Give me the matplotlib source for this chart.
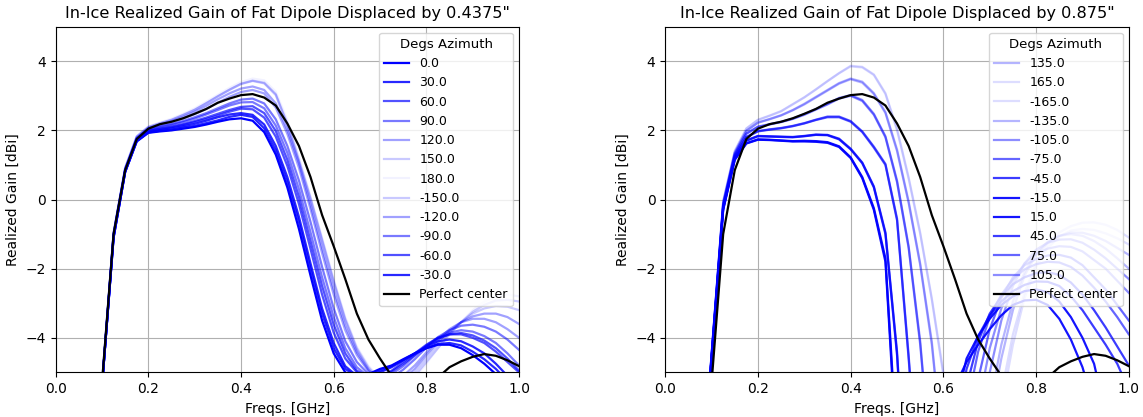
import numpy as np
import matplotlib
matplotlib.use('Agg')
import matplotlib.pyplot as plt

plt.rcParams['font.size'] = 10
plt.rcParams['legend.fontsize'] = 9
plt.rcParams['axes.titlesize'] = 11.6

freqs = [0.075, 0.1, 0.125, 0.15, 0.175, 0.2, 0.225, 0.25, 0.275, 0.3,
         0.325, 0.35, 0.375, 0.4, 0.425, 0.45, 0.475, 0.5, 0.525, 0.55,
         0.575, 0.6, 0.625, 0.65, 0.675, 0.7, 0.725, 0.75, 0.775, 0.8,
         0.825, 0.85, 0.875, 0.9, 0.925, 0.95, 0.975, 1.0]

center = [-9, -5.3, -1.0, 0.85, 1.75, 2.05, 2.18, 2.25, 2.35, 2.48,
          2.62, 2.8, 2.92, 3.02, 3.05, 2.95, 2.72, 2.2, 1.55, 0.65,
          -0.45, -1.35, -2.3, -3.3, -4.05, -4.6, -5.1, -5.6, -5.8, -5.6,
          -5.15, -4.85, -4.68, -4.55, -4.47, -4.52, -4.65, -4.82]

# 0.4375" displacement
az_a = [0.0, 30.0, 60.0, 90.0, 120.0, 150.0, 180.0, -150.0, -120.0, -90.0, -60.0, -30.0]
gain_a = {
    0.0: [-9, -5.4, -1.1, 0.8, 1.68, 1.93, 1.97, 2.0, 2.05, 2.1,
          2.17, 2.25, 2.32, 2.35, 2.28, 1.95, 1.3, 0.35, -0.85, -2.2,
          -3.5, -4.45, -5.0, -5.15, -5.05, -4.9, -4.8, -4.62, -4.45, -4.3,
          -4.2, -4.2, -4.3, -4.5, -4.75, -5.05, -5.4, -5.8],
    30.0: [-9, -5.4, -1.1, 0.8, 1.69, 1.94, 1.99, 2.02, 2.08, 2.13,
           2.21, 2.29, 2.39, 2.45, 2.39, 2.06, 1.42, 0.5, -0.65, -2.0,
           -3.3, -4.3, -4.9, -5.12, -5.08, -4.95, -4.82, -4.64, -4.46, -4.3,
           -4.18, -4.15, -4.22, -4.4, -4.62, -4.9, -5.25, -5.65],
    60.0: [-9, -5.4, -1.05, 0.82, 1.72, 1.98, 2.04, 2.09, 2.16, 2.24,
           2.33, 2.43, 2.54, 2.63, 2.61, 2.37, 1.82, 0.97, -0.13, -1.43,
           -2.75, -3.85, -4.6, -5.0, -5.15, -5.1, -4.95, -4.7, -4.45, -4.2,
           -4.0, -3.9, -3.9, -4.0, -4.15, -4.4, -4.7, -5.0],
    90.0: [-9, -5.4, -1.05, 0.85, 1.75, 2.01, 2.09, 2.16, 2.24, 2.34,
           2.46, 2.59, 2.72, 2.81, 2.82, 2.64, 2.14, 1.35, 0.3, -0.95,
           -2.25, -3.4, -4.3, -4.85, -5.12, -5.18, -5.05, -4.82, -4.52, -4.22,
           -4.0, -3.85, -3.78, -3.82, -3.95, -4.15, -4.45, -4.8],
    120.0: [-9, -5.4, -1.0, 0.88, 1.78, 2.05, 2.15, 2.23, 2.34, 2.47,
            2.62, 2.8, 2.97, 3.11, 3.17, 3.07, 2.66, 1.9, 0.92, -0.28,
            -1.55, -2.75, -3.78, -4.5, -4.97, -5.22, -5.28, -5.1, -4.8, -4.42,
            -4.05, -3.75, -3.55, -3.45, -3.45, -3.55, -3.75, -4.0],
    150.0: [-9, -5.3, -0.95, 0.92, 1.83, 2.1, 2.21, 2.31, 2.45, 2.6,
            2.79, 2.99, 3.18, 3.35, 3.44, 3.38, 3.05, 2.2, 1.15, 0.05,
            -1.15, -2.35, -3.45, -4.3, -4.85, -5.2, -5.4, -5.35, -5.1, -4.7,
            -4.3, -3.9, -3.55, -3.25, -3.05, -2.92, -2.9, -2.95],
    180.0: [-9, -5.3, -0.95, 0.93, 1.84, 2.12, 2.23, 2.34, 2.48, 2.64,
            2.83, 3.03, 3.23, 3.4, 3.5, 3.45, 3.12, 2.3, 1.25, 0.1,
            -1.1, -2.3, -3.4, -4.25, -4.8, -5.2, -5.45, -5.4, -5.15, -4.75,
            -4.3, -3.9, -3.55, -3.2, -2.95, -2.8, -2.75, -2.8],
    -150.0: [-9, -5.3, -0.96, 0.91, 1.82, 2.09, 2.2, 2.3, 2.44, 2.59,
             2.78, 2.98, 3.17, 3.34, 3.43, 3.36, 3.02, 2.15, 1.1, 0.0,
             -1.2, -2.4, -3.5, -4.35, -4.9, -5.25, -5.4, -5.3, -5.0, -4.6,
             -4.2, -3.85, -3.55, -3.3, -3.15, -3.08, -3.1, -3.2],
    -120.0: [-9, -5.4, -1.0, 0.89, 1.79, 2.07, 2.17, 2.27, 2.39, 2.54,
             2.71, 2.9, 3.07, 3.21, 3.27, 3.17, 2.78, 2.02, 1.05, -0.15,
             -1.4, -2.6, -3.65, -4.42, -4.93, -5.25, -5.32, -5.2, -4.9, -4.5,
             -4.12, -3.8, -3.55, -3.38, -3.3, -3.3, -3.4, -3.6],
    -90.0: [-9, -5.4, -1.0, 0.86, 1.77, 2.03, 2.11, 2.18, 2.27, 2.38,
            2.5, 2.64, 2.78, 2.89, 2.92, 2.78, 2.32, 1.55, 0.55, -0.65,
            -1.95, -3.15, -4.1, -4.7, -5.05, -5.2, -5.15, -4.92, -4.62, -4.28,
            -3.98, -3.78, -3.65, -3.62, -3.68, -3.82, -4.05, -4.35],
    -60.0: [-9, -5.4, -1.05, 0.83, 1.73, 1.99, 2.05, 2.11, 2.18, 2.27,
            2.37, 2.48, 2.59, 2.68, 2.7, 2.5, 1.98, 1.15, 0.08, -1.2,
            -2.5, -3.62, -4.45, -4.95, -5.12, -5.12, -4.98, -4.76, -4.5, -4.24,
            -4.03, -3.9, -3.86, -3.93, -4.08, -4.3, -4.6, -4.95],
    -30.0: [-9, -5.4, -1.1, 0.8, 1.7, 1.95, 2.01, 2.06, 2.12, 2.19,
            2.28, 2.38, 2.46, 2.5, 2.45, 2.17, 1.55, 0.65, -0.5, -1.85,
            -3.15, -4.15, -4.82, -5.1, -5.1, -5.0, -4.85, -4.65, -4.45, -4.25,
            -4.1, -4.05, -4.1, -4.25, -4.45, -4.75, -5.1, -5.5],
}

# 0.875" displacement
az_b = [135.0, 165.0, -165.0, -135.0, -105.0, -75.0, -45.0, -15.0, 15.0, 45.0, 75.0, 105.0]
gain_b = {
    15.0: [-9, -4.6, -0.3, 1.15, 1.62, 1.73, 1.72, 1.7, 1.68, 1.68,
           1.67, 1.64, 1.52, 1.2, 0.62, -0.3, -1.8, -7.5, -11, -13,
           -12, -8.5, -5.4, -4.7, -4.2, -3.75, -3.35, -3.05, -2.92, -2.9,
           -3.05, -3.45, -4.05, -4.85, -6.0, -8.0, -10, -12],
    -15.0: [-9, -4.6, -0.28, 1.16, 1.63, 1.74, 1.73, 1.71, 1.69, 1.7,
            1.69, 1.66, 1.54, 1.22, 0.65, -0.25, -1.7, -7.2, -10.5, -13,
            -12.5, -9.5, -6.0, -4.6, -3.95, -3.45, -3.05, -2.8, -2.65, -2.6,
            -2.68, -2.95, -3.4, -4.0, -4.75, -6.2, -8.0, -10],
    45.0: [-9, -4.6, -0.25, 1.2, 1.7, 1.83, 1.82, 1.81, 1.8, 1.83,
           1.87, 1.86, 1.74, 1.45, 1.05, 0.35, -1.0, -4.5, -10, -13,
           -13, -10, -6.8, -4.9, -3.95, -3.35, -2.95, -2.65, -2.47, -2.37,
           -2.38, -2.5, -2.8, -3.2, -3.7, -4.2, -4.75, -5.5],
    -45.0: [-9, -4.6, -0.24, 1.21, 1.71, 1.84, 1.83, 1.82, 1.81, 1.84,
            1.88, 1.87, 1.76, 1.47, 1.07, 0.38, -0.95, -4.4, -10, -13,
            -14, -11, -7.5, -5.4, -4.1, -3.3, -2.8, -2.45, -2.25, -2.13,
            -2.1, -2.18, -2.4, -2.75, -3.2, -3.7, -4.25, -4.8],
    75.0: [-9, -4.55, -0.2, 1.25, 1.8, 1.97, 2.02, 2.06, 2.12, 2.2,
           2.3, 2.38, 2.38, 2.25, 1.95, 1.5, 1.0, -0.6, -4.6, -9,
           -13, -12, -8.5, -6.0, -4.4, -3.4, -2.75, -2.3, -2.02, -1.87,
           -1.8, -1.82, -1.95, -2.2, -2.55, -2.95, -3.4, -3.9],
    -75.0: [-9, -4.55, -0.19, 1.26, 1.81, 1.98, 2.03, 2.07, 2.13, 2.21,
            2.31, 2.4, 2.4, 2.27, 1.97, 1.53, 1.03, -0.55, -4.5, -9,
            -13, -13, -9.5, -6.8, -5.2, -3.75, -2.85, -2.25, -1.9, -1.72,
            -1.62, -1.6, -1.68, -1.9, -2.25, -2.6, -3.05, -3.5],
    105.0: [-9, -4.5, -0.15, 1.3, 1.9, 2.1, 2.17, 2.24, 2.33, 2.45,
            2.6, 2.75, 2.92, 3.0, 2.85, 2.45, 1.8, 0.5, -1.4, -4.2,
            -8, -12, -11, -7.8, -6.0, -4.3, -3.15, -2.35, -1.85, -1.57,
            -1.42, -1.35, -1.37, -1.5, -1.75, -2.0, -2.35, -2.7],
    -105.0: [-9, -4.5, -0.14, 1.31, 1.91, 2.11, 2.18, 2.25, 2.34, 2.47,
             2.62, 2.77, 2.94, 3.02, 2.88, 2.48, 1.83, 0.55, -1.35, -4.1,
             -8, -12, -12, -8.5, -6.6, -5.0, -3.5, -2.5, -1.85, -1.45,
             -1.25, -1.16, -1.15, -1.25, -1.45, -1.7, -2.0, -2.3],
    135.0: [-9, -4.5, -0.1, 1.35, 1.98, 2.22, 2.32, 2.43, 2.58, 2.75,
            2.95, 3.15, 3.35, 3.48, 3.38, 3.05, 2.5, 1.4, -0.1, -1.9,
            -4.2, -7.5, -12, -10, -7.5, -5.9, -4.2, -2.95, -2.1, -1.55,
            -1.22, -1.05, -1.0, -1.05, -1.2, -1.42, -1.7, -2.0],
    -135.0: [-9, -4.5, -0.09, 1.36, 1.99, 2.23, 2.33, 2.44, 2.59, 2.77,
             2.97, 3.17, 3.37, 3.5, 3.41, 3.08, 2.53, 1.45, -0.05, -1.85,
             -4.1, -7.5, -12, -11, -8.0, -6.4, -4.6, -3.2, -2.2, -1.6,
             -1.25, -1.05, -0.96, -0.96, -1.05, -1.2, -1.4, -1.6],
    165.0: [-9, -4.45, -0.05, 1.4, 2.05, 2.3, 2.42, 2.55, 2.75, 2.95,
            3.18, 3.42, 3.65, 3.85, 3.82, 3.6, 3.05, 2.0, 0.6, -1.0,
            -2.9, -5.1, -8, -12, -9.5, -7.2, -5.6, -3.9, -2.7, -1.85,
            -1.3, -0.95, -0.77, -0.67, -0.66, -0.73, -0.88, -1.1],
    -165.0: [-9, -4.45, -0.04, 1.41, 2.06, 2.31, 2.43, 2.56, 2.76, 2.96,
             3.19, 3.43, 3.66, 3.87, 3.84, 3.62, 3.08, 2.05, 0.65, -0.95,
             -2.85, -5.0, -8, -12, -10, -7.6, -6.0, -4.2, -2.85, -1.95,
             -1.4, -1.07, -0.9, -0.85, -0.88, -0.98, -1.12, -1.3],
}

titles = ['In-Ice Realized Gain of Fat Dipole Displaced by 0.4375"',
          'In-Ice Realized Gain of Fat Dipole Displaced by 0.875"']


def plot_panel(ax, azimuths, gains, title):
    for az in azimuths:
        ax.plot(freqs, gains[az], color='blue', alpha=1 - abs(az) / 190.0,
                lw=1.6, label='%.1f' % az)
    ax.plot(freqs, center, color='black', lw=1.6, label='Perfect center')
    ax.set_xlim(0, 1)
    ax.set_ylim(-5, 5)
    ax.set_yticks([-4, -2, 0, 2, 4])
    ax.grid(True)
    ax.set_title(title)
    ax.set_xlabel('Freqs. [GHz]')
    ax.set_ylabel('Realized Gain [dBi]')
    ax.legend(title='Degs Azimuth', loc='upper right', title_fontsize=9.5)


fig = plt.figure(figsize=(11.43, 4.17), dpi=100)
ax1 = fig.add_axes([0.0487, 0.107, 0.4054, 0.829])
ax2 = fig.add_axes([0.582, 0.107, 0.4056, 0.829])

plot_panel(ax1, az_a, gain_a, titles[0])
plot_panel(ax2, az_b, gain_b, titles[1])

fig.savefig('out.png', dpi=100)
plt.close(fig)
